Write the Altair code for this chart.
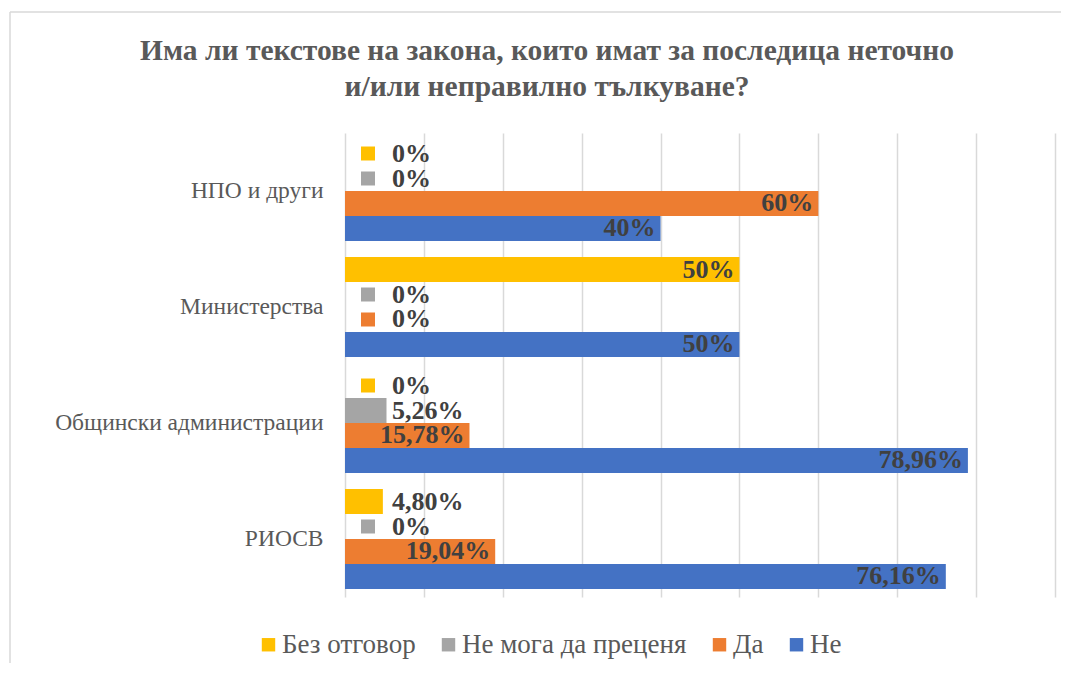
import altair as alt
import pandas as pd

categories = ["НПО и други", "Министерства", "Общински администрации", "РИОСВ"]
series = ["Без отговор", "Не мога да преценя", "Да", "Не"]
colors = ["#FFC000", "#A5A5A5", "#ED7D31", "#4472C4"]

bez_otgovor = [0, 50, 0, 4.80]
ne_moga = [0, 0, 5.26, 0]
da = [60, 0, 15.78, 19.04]
ne = [40, 50, 78.96, 76.16]

title_lines = ["Има ли текстове на закона, които имат за последица неточно",
               "и/или неправилно тълкуване?"]


def fmt(v):
    if float(v).is_integer():
        return f"{int(v)}%"
    return f"{v:.2f}".replace(".", ",") + "%"


rows = []
for s, vals in zip(series, [bez_otgovor, ne_moga, da, ne]):
    for c, v in zip(categories, vals):
        rows.append({"category": c, "series": s, "value": v, "label": fmt(v)})
df = pd.DataFrame(rows)

FONT = "Liberation Serif"

y_enc = alt.Y("category:N", sort=categories,
              scale=alt.Scale(paddingInner=0.138, paddingOuter=0.069),
              axis=alt.Axis(title=None, domain=False, ticks=False, labelPadding=22,
                            labelFont=FONT, labelFontSize=23.5, labelColor="#595959",
                            labelLimit=400))
yoff = alt.YOffset("series:N", sort=series, scale=alt.Scale(paddingInner=0, paddingOuter=0))
x_scale = alt.Scale(domain=[0, 90], nice=False)

base = alt.Chart(df)

one = pd.DataFrame({"a": [0]})
frame_top = alt.Chart(one).mark_rule(color="#D9D9D9", strokeWidth=1.5).encode(
    x=alt.value(-335), x2=alt.value(716), y=alt.value(-121))
frame_left = alt.Chart(one).mark_rule(color="#D9D9D9", strokeWidth=1.5).encode(
    x=alt.value(-335), y=alt.value(-121), y2=alt.value(530))

bars = base.mark_bar().encode(
    x=alt.X("value:Q", scale=x_scale,
            axis=alt.Axis(values=list(range(0, 91, 10)), labels=False, ticks=False,
                          domain=False, grid=True, gridColor="#D9D9D9", gridWidth=1.5,
                          title=None)),
    y=y_enc,
    yOffset=yoff,
    color=alt.Color("series:N", sort=series,
                    scale=alt.Scale(domain=series, range=colors),
                    legend=alt.Legend(title=None, orient="none", direction="horizontal",
                                      legendX=-90, legendY=498,
                                      symbolType="square", symbolSize=180,
                                      symbolStrokeWidth=0, labelFont=FONT,
                                      labelFontSize=27, labelColor="#595959",
                                      labelLimit=500,
                                      labelOffset=0, columnPadding=19, padding=0)),
)

text_style = dict(font=FONT, fontSize=26, fontWeight="bold", color="#404040",
                  baseline="middle")

big_labels = base.transform_filter("datum.value >= 10").mark_text(
    align="right", dx=-5, **text_style
).encode(x=alt.X("value:Q", scale=x_scale), y=y_enc, yOffset=yoff, text="label:N")

small_labels = base.transform_filter("datum.value < 10").transform_calculate(
    zero="0"
).mark_text(
    align="left", dx=47, **text_style
).encode(x=alt.X("zero:Q", scale=x_scale), y=y_enc, yOffset=yoff, text="label:N")

zero_keys = base.transform_filter("datum.value == 0").mark_square(
    size=196, opacity=1, xOffset=23
).encode(x=alt.X("value:Q", scale=x_scale), y=y_enc, yOffset=yoff,
         color=alt.Color("series:N", sort=series,
                         scale=alt.Scale(domain=series, range=colors), legend=None))

chart = alt.layer(frame_top, frame_left, bars, zero_keys, big_labels, small_labels).properties(
    width=710, height=464,
    autosize=alt.AutoSizeParams(type="none"),
    padding={"left": 337, "top": 125, "right": 8, "bottom": 68},
    title=alt.TitleParams(text=title_lines, font=FONT, fontSize=29.5, fontWeight="bold",
                          color="#595959", anchor="middle", frame="group", dx=-153,
                          dy=121, offset=30, lineHeight=36),
).configure_view(stroke=None)

chart.save("out.html", embed_options={"renderer": "svg", "actions": False})
